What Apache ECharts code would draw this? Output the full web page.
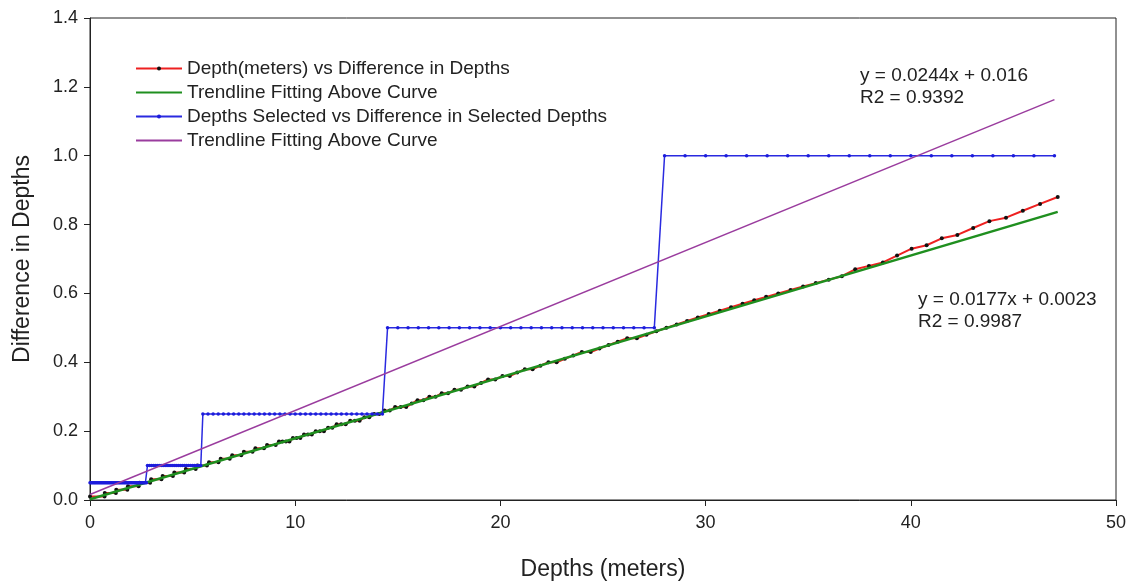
<!DOCTYPE html>
<html>
<head>
<meta charset="utf-8">
<script src="https://cdn.jsdelivr.net/npm/echarts@6/dist/echarts.min.js"></script>
<style>
html, body { margin: 0; padding: 0; background: #fff; }
#chart { width: 1127px; height: 582px; }
</style>
</head>
<body>
<div id="chart"></div>
<script>
// Depth(meters) vs Difference in Depths (red) - staircase corners near the surface, then every point
var depthX = [0, 0.71, 0.72, 1.26, 1.28, 1.82, 1.85, 2.37, 2.41, 2.93, 2.98, 3.48, 3.54, 4.04, 4.11, 4.59,
  4.67, 5.15, 5.24, 5.70, 5.80, 6.26, 6.37, 6.81, 6.93, 7.37, 7.50, 7.92, 8.06, 8.48, 8.63,
  9.05, 9.21, 9.38, 9.55, 9.72, 9.89, 10.07, 10.25, 10.43, 10.62, 10.81, 11.00, 11.20, 11.40,
  11.60, 11.81, 12.02, 12.24, 12.46, 12.68, 12.91, 13.14, 13.37, 13.61, 13.85, 14.10, 14.35,
  14.61, 14.87, 15.14, 15.41, 15.68, 15.96, 16.25, 16.54, 16.84, 17.14, 17.45, 17.76, 18.08,
  18.40, 18.73, 19.06, 19.40, 19.75, 20.10, 20.46, 20.82, 21.19, 21.57, 21.95, 22.34, 22.74,
  23.14, 23.55, 23.97, 24.40, 24.83, 25.27, 25.72, 26.18, 26.65, 27.12, 27.60, 28.09, 28.59,
  29.10, 29.62, 30.15, 30.69, 31.24, 31.80, 32.37, 32.95, 33.54, 34.14, 34.75, 35.37, 36.00,
  36.64, 37.29, 37.96, 38.64, 39.33, 40.04, 40.77, 41.51, 42.27, 43.04, 43.83, 44.64, 45.46,
  46.30, 47.16];
var depthDiff = [0.01, 0.01, 0.02, 0.02, 0.03, 0.03, 0.04, 0.04, 0.05, 0.05, 0.06, 0.06, 0.07, 0.07, 0.08, 0.08,
  0.09, 0.09, 0.10, 0.10, 0.11, 0.11, 0.12, 0.12, 0.13, 0.13, 0.14, 0.14, 0.15, 0.15, 0.16,
  0.16, 0.17, 0.17, 0.17, 0.17, 0.18, 0.18, 0.18, 0.19, 0.19, 0.19, 0.20, 0.20, 0.20,
  0.21, 0.21, 0.22, 0.22, 0.22, 0.23, 0.23, 0.23, 0.24, 0.24, 0.25, 0.25, 0.26,
  0.26, 0.27, 0.27, 0.27, 0.28, 0.29, 0.29, 0.30, 0.30, 0.31, 0.31, 0.32, 0.32,
  0.33, 0.33, 0.34, 0.35, 0.35, 0.36, 0.36, 0.37, 0.38, 0.38, 0.39, 0.40, 0.40,
  0.41, 0.42, 0.43, 0.43, 0.44, 0.45, 0.46, 0.47, 0.47, 0.48, 0.49, 0.50, 0.51,
  0.52, 0.53, 0.54, 0.55, 0.56, 0.57, 0.58, 0.59, 0.60, 0.61, 0.62, 0.63, 0.64,
  0.65, 0.67, 0.68, 0.69, 0.71, 0.73, 0.74, 0.76, 0.77, 0.79, 0.81, 0.82, 0.84,
  0.86, 0.88];

// Depths Selected vs Difference in Selected Depths (blue)
var selX = [0, 0.05, 0.1, 0.15, 0.2, 0.25, 0.3, 0.35, 0.4, 0.45, 0.5, 0.55, 0.6, 0.65, 0.7, 0.75,
  0.8, 0.85, 0.9, 0.95, 1, 1.05, 1.1, 1.15, 1.2, 1.25, 1.3, 1.35, 1.4, 1.45, 1.5, 1.55, 1.6,
  1.65, 1.7, 1.75, 1.8, 1.85, 1.9, 1.95, 2, 2.05, 2.1, 2.15, 2.2, 2.25, 2.3, 2.35, 2.4, 2.45,
  2.5, 2.55, 2.6, 2.65, 2.7, 2.75,
  2.8, 2.9, 3, 3.1, 3.2, 3.3, 3.4, 3.5, 3.6, 3.7, 3.8, 3.9, 4, 4.1, 4.2, 4.3, 4.4, 4.5, 4.6,
  4.7, 4.8, 4.9, 5, 5.1, 5.2, 5.3, 5.4,
  5.5, 5.75, 6, 6.25, 6.5, 6.75, 7, 7.25, 7.5, 7.75, 8, 8.25, 8.5, 8.75, 9, 9.25, 9.5, 9.75,
  10, 10.25, 10.5, 10.75, 11, 11.25, 11.5, 11.75, 12, 12.25, 12.5, 12.75, 13, 13.25, 13.5,
  13.75, 14, 14.25,
  14.5, 15, 15.5, 16, 16.5, 17, 17.5, 18, 18.5, 19, 19.5, 20, 20.5, 21, 21.5, 22, 22.5, 23,
  23.5, 24, 24.5, 25, 25.5, 26, 26.5, 27, 27.5,
  28, 29, 30, 31, 32, 33, 34, 35, 36, 37, 38, 39, 40, 41, 42, 43, 44, 45, 46, 47];
var selDiff = [0.05, 0.05, 0.05, 0.05, 0.05, 0.05, 0.05, 0.05, 0.05, 0.05, 0.05, 0.05, 0.05, 0.05, 0.05, 0.05,
  0.05, 0.05, 0.05, 0.05, 0.05, 0.05, 0.05, 0.05, 0.05, 0.05, 0.05, 0.05, 0.05, 0.05, 0.05, 0.05, 0.05,
  0.05, 0.05, 0.05, 0.05, 0.05, 0.05, 0.05, 0.05, 0.05, 0.05, 0.05, 0.05, 0.05, 0.05, 0.05, 0.05, 0.05,
  0.05, 0.05, 0.05, 0.05, 0.05, 0.05,
  0.1, 0.1, 0.1, 0.1, 0.1, 0.1, 0.1, 0.1, 0.1, 0.1, 0.1, 0.1, 0.1, 0.1, 0.1, 0.1, 0.1, 0.1, 0.1,
  0.1, 0.1, 0.1, 0.1, 0.1, 0.1, 0.1, 0.1,
  0.25, 0.25, 0.25, 0.25, 0.25, 0.25, 0.25, 0.25, 0.25, 0.25, 0.25, 0.25, 0.25, 0.25, 0.25, 0.25, 0.25, 0.25,
  0.25, 0.25, 0.25, 0.25, 0.25, 0.25, 0.25, 0.25, 0.25, 0.25, 0.25, 0.25, 0.25, 0.25, 0.25,
  0.25, 0.25, 0.25,
  0.5, 0.5, 0.5, 0.5, 0.5, 0.5, 0.5, 0.5, 0.5, 0.5, 0.5, 0.5, 0.5, 0.5, 0.5, 0.5, 0.5, 0.5,
  0.5, 0.5, 0.5, 0.5, 0.5, 0.5, 0.5, 0.5, 0.5,
  1, 1, 1, 1, 1, 1, 1, 1, 1, 1, 1, 1, 1, 1, 1, 1, 1, 1, 1, 1];

// trendlines: end points of the fitted lines
var trendRedX = [0, 47.16];
var trendRedY = [0.0023, 0.8370];   // y = 0.0177x + 0.0023
var trendBlueX = [0, 47];
var trendBlueY = [0.016, 1.1628];   // y = 0.0244x + 0.016

var xTicks = [0, 10, 20, 30, 40, 50];
var yTicks = [0.0, 0.2, 0.4, 0.6, 0.8, 1.0, 1.2, 1.4];

var seriesNames = [
  'Depth(meters) vs Difference in Depths',
  'Trendline Fitting Above Curve',
  'Depths Selected vs Difference in Selected Depths',
  'Trendline Fitting Above Curve '
];

function pairs(xs, ys) {
  return xs.map(function (x, i) { return [x, ys[i]]; });
}

var chart = echarts.init(document.getElementById('chart'));
var font = '"Liberation Sans", Arial, sans-serif';

chart.setOption({
  animation: false,
  backgroundColor: '#fff',
  textStyle: { fontFamily: font },
  grid: { left: 90, right: 11, top: 18, bottom: 82, show: true, borderColor: '#222', borderWidth: 1,
    containLabel: false, outerBoundsMode: 'none' },
  legend: {
    data: [
      { name: seriesNames[0] },
      { name: seriesNames[1], itemStyle: { opacity: 0 } },
      { name: seriesNames[2] },
      { name: seriesNames[3], itemStyle: { opacity: 0 } }
    ],
    orient: 'vertical',
    left: 130,
    top: 54,
    itemWidth: 46,
    itemHeight: 5,
    itemGap: 5,
    textStyle: { fontSize: 19, color: '#222', fontFamily: font }
  },
  xAxis: {
    type: 'value',
    min: 0, max: 50, interval: 10,
    name: 'Depths (meters)',
    nameLocation: 'middle',
    nameGap: 58,
    nameTextStyle: { fontSize: 23, color: '#222' },
    axisLine: { lineStyle: { color: '#222', width: 1 } },
    axisTick: { inside: false, length: 6, lineStyle: { color: '#222' } },
    axisLabel: { fontSize: 18, color: '#222', margin: 14,
      formatter: function (v) { return xTicks.indexOf(v) >= 0 ? String(v) : ''; } },
    splitLine: { show: false }
  },
  yAxis: {
    type: 'value',
    min: 0, max: 1.4, interval: 0.2,
    name: 'Difference in Depths',
    nameLocation: 'middle',
    nameGap: 56,
    nameTextStyle: { fontSize: 23, color: '#222' },
    axisLine: { show: true, lineStyle: { color: '#222', width: 1 } },
    axisTick: { show: true, inside: false, length: 6, lineStyle: { color: '#222' } },
    axisLabel: { fontSize: 18, color: '#222', margin: 12,
      formatter: function (v) { return v.toFixed(1); } },
    splitLine: { show: false }
  },
  graphic: [
    { type: 'text', left: 860, top: 65, style: { text: 'y = 0.0244x + 0.016\nR2 = 0.9392', fontSize: 19, lineHeight: 22, fill: '#222', fontFamily: font } },
    { type: 'text', left: 918, top: 289, style: { text: 'y = 0.0177x + 0.0023\nR2 = 0.9987', fontSize: 19, lineHeight: 22, fill: '#222', fontFamily: font } }
  ],
  series: [
    {
      name: seriesNames[0],
      type: 'line',
      data: pairs(depthX, depthDiff),
      symbol: 'circle',
      symbolSize: 4,
      itemStyle: { color: '#111' },
      lineStyle: { color: '#ee2020', width: 2 },
      z: 2
    },
    {
      name: seriesNames[1],
      type: 'line',
      data: pairs(trendRedX, trendRedY),
      symbol: 'none',
      itemStyle: { color: '#1f8f1f' },
      lineStyle: { color: '#1f8f1f', width: 2.5 },
      z: 3
    },
    {
      name: seriesNames[2],
      type: 'line',
      data: pairs(selX, selDiff),
      symbol: 'circle',
      symbolSize: 3.5,
      itemStyle: { color: '#1c1cdc' },
      lineStyle: { color: '#2a2ae0', width: 1.5 },
      z: 4
    },
    {
      name: seriesNames[3],
      type: 'line',
      data: pairs(trendBlueX, trendBlueY),
      symbol: 'none',
      itemStyle: { color: '#9a3c9e' },
      lineStyle: { color: '#9a3c9e', width: 1.5 },
      z: 5
    }
  ]
});
</script>
</body>
</html>
